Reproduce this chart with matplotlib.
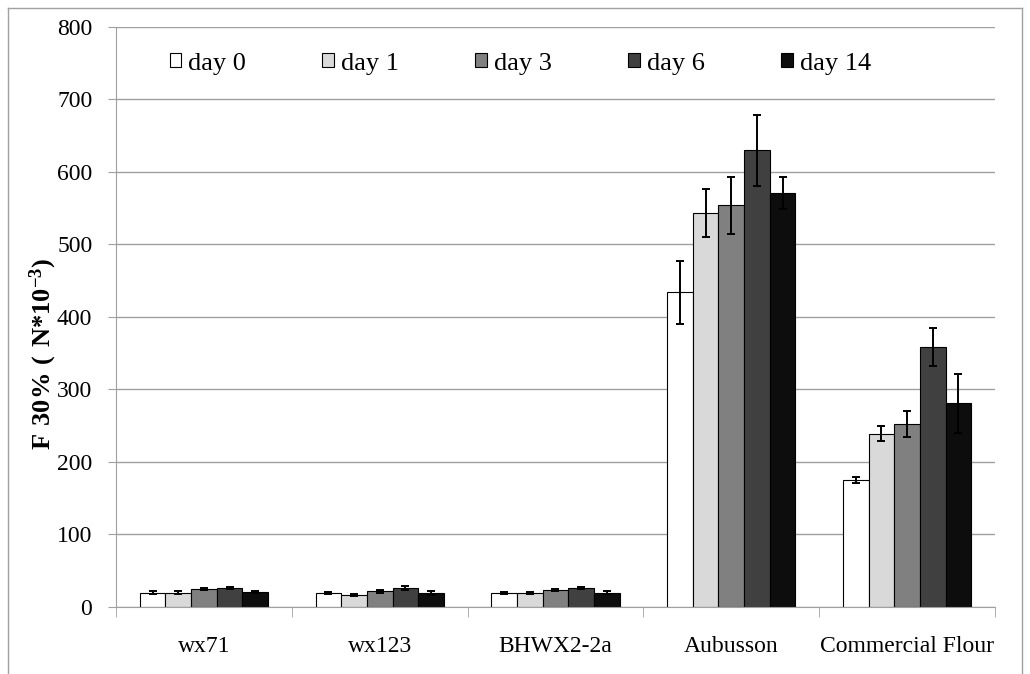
import numpy as np
import matplotlib
matplotlib.use('Agg')
import matplotlib.pyplot as plt
from matplotlib.lines import Line2D

plt.rcParams['font.family'] = ['Liberation Serif', 'Noto Sans CJK SC']
plt.rcParams['mathtext.fontset'] = 'custom'
plt.rcParams['mathtext.rm'] = 'Liberation Serif'
plt.rcParams['mathtext.bf'] = 'Liberation Serif:bold'

# data
samples = ['wx71', 'wx123', 'BHWX2-2a', 'Aubusson', 'Commercial Flour']
days = ['day 0', 'day 1', 'day 3', 'day 6', 'day 14']
day0 = [20, 19, 19, 434, 175]
day1 = [20, 17, 19, 543, 239]
day3 = [25, 22, 24, 554, 253]
day6 = [26, 26, 26, 630, 359]
day14 = [21, 19, 20, 571, 281]
err0 = [2, 1.5, 1.5, 43, 4]
err1 = [2, 1.5, 1.5, 33, 10]
err3 = [1.5, 2, 1.5, 39, 18]
err6 = [1.5, 3, 1.5, 49, 26]
err14 = [1.5, 3, 1.5, 22, 41]

values = [day0, day1, day3, day6, day14]
errors = [err0, err1, err3, err6, err14]
colors = ['#ffffff', '#d9d9d9', '#808080', '#404040', '#0d0d0d']

fig = plt.figure(figsize=(10.3, 6.74), dpi=100)
ax = fig.add_axes([0.1126, 0.0994, 0.8534, 0.8606])

x = np.arange(len(samples))
width = 0.146
for i in range(len(days)):
    pos = x + (i - 2) * width
    ax.bar(pos, values[i], width, color=colors[i], edgecolor='black',
           linewidth=0.8, label=days[i], zorder=2)
    ax.errorbar(pos, values[i], yerr=errors[i], fmt='none', ecolor='black',
                elinewidth=1.4, capsize=3, capthick=1.4, zorder=3)

ax.set_xlim(-0.5, len(samples) - 0.5)
ax.set_ylim(0, 800)
ax.set_yticks(np.arange(0, 801, 100))
ax.yaxis.grid(True, color='#a0a0a0', linewidth=1)
ax.set_axisbelow(True)
ax.set_xticks(x)
ax.set_xticklabels(samples, fontsize=17)
ax.set_xticks(np.arange(-0.5, len(samples), 1), minor=True)
ax.tick_params(axis='x', which='major', length=0, pad=21)
ax.tick_params(axis='x', which='minor', length=7, color='#a0a0a0')
ax.tick_params(axis='y', length=6, color='#a0a0a0', labelsize=17, pad=11)
for s in ['top', 'right']:
    ax.spines[s].set_visible(False)
for s in ['left', 'bottom']:
    ax.spines[s].set_color('#a0a0a0')

ax.set_ylabel(r'$\mathbf{F\ 30\%\ (\ N{*}10^{-3})}$', fontsize=19)
ax.yaxis.set_label_coords(-0.065, 0.436)

ax.legend(loc='center left', bbox_to_anchor=(0.049, 0.937), ncol=5, frameon=False,
          fontsize=19, handlelength=0.45, handleheight=0.45, handletextpad=0.25,
          columnspacing=2.9, borderaxespad=0)

# outer frame
fig.add_artist(Line2D([8 / 1030, 8 / 1030], [0, 1 - 8 / 674], color='#a0a0a0', linewidth=1))
fig.add_artist(Line2D([8 / 1030, 1022 / 1030], [1 - 8 / 674, 1 - 8 / 674], color='#a0a0a0', linewidth=1))
fig.add_artist(Line2D([1022 / 1030, 1022 / 1030], [0, 1 - 8 / 674], color='#a0a0a0', linewidth=1))

fig.savefig('out.png', dpi=100)
